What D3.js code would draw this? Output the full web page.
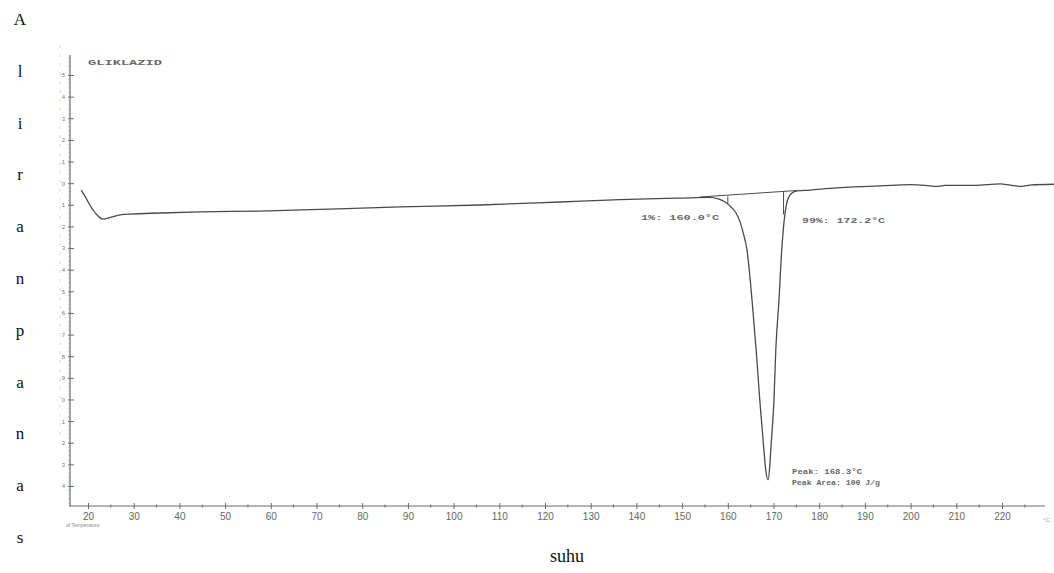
<!DOCTYPE html>
<html>
<head>
<meta charset="utf-8">
<script src="https://cdn.jsdelivr.net/npm/d3@7"></script>
<style>
html,body{margin:0;padding:0;background:#fff;}
svg{display:block;}
</style>
</head>
<body>
<svg id="chart" width="1054" height="573"></svg>
<script>
// ---- data ----
const sampleName = "GLIKLAZID";
const temperature = [18.5,19.3,20.4,22.0,23.3,24.8,26.3,29.2,35.8,44.5,57.6,73.0,88.3,105.8,123.3,136.4,149.5,156.1,157.9,159.4,160.7,161.8,162.7,163.5,164.2,165.3,166.2,167.0,167.9,168.3,168.8,169.2,169.4,170.1,170.5,171.2,171.8,172.3,172.9,173.8,175.1,178.0,182.4,186.7,193.3,199.9,203.2,205.8,207.5,214.1,219.6,221.8,224.4,226.1,231.4];
const heatFlow    = [-0.32,-0.59,-1.01,-1.47,-1.66,-1.59,-1.50,-1.43,-1.38,-1.33,-1.29,-1.20,-1.10,-1.01,-0.87,-0.76,-0.69,-0.66,-0.73,-0.87,-1.10,-1.38,-1.80,-2.40,-3.09,-5.40,-7.71,-10.03,-12.34,-13.26,-13.72,-13.03,-12.34,-10.03,-7.71,-5.40,-3.09,-1.80,-0.92,-0.50,-0.36,-0.32,-0.24,-0.18,-0.13,-0.07,-0.10,-0.15,-0.10,-0.10,-0.03,-0.09,-0.15,-0.09,-0.05];
const baselineT = [153.9, 175.1];
const baselineV = [-0.64, -0.34];
const markerT = [160.0, 172.2];
const markerTopV = [-0.61, -0.39];
const markerBottomV = [-0.95, -1.45];
const xTickValues = [20,30,40,50,60,70,80,90,100,110,120,130,140,150,160,170,180,190,200,210,220];
const xMinorTicks = [25,35,45,55,65,75,85,95,105,115,125,135,145,155,165,175,185,195,205,215,225];
const yTickValues = [5,4,3,2,1,0,-1,-2,-3,-4,-5,-6,-7,-8,-9,-10,-11,-12,-13,-14];
const yTickLabels = ["5","4","3","2","1","0","1","2","3","4","5","6","7","8","9","0","1","2","3","4"];
const annotations = ["1%: 160.0°C","99%: 172.2°C","Peak: 168.3°C","Peak Area: 100 J/g"];
const yTitleLetters = ["A","l","i","r","a","n","p","a","n","a","s"];
const xTitle = "suhu";

// ---- scales ----
const svg = d3.select("#chart");
const x = d3.scaleLinear().domain([20,220]).range([88,1002]);
const y = d3.scaleLinear().domain([5,-14]).range([75,486]);
const xAxisY = 506, yAxisX = 70;
const xLeft = 69, xRight = 1045, yTop = 55;

const ink = "#4a4a4a", axisInk = "#6a6a6a";

// faint scan edge (dotted) on the left
svg.append("line").attr("x1",60).attr("x2",60).attr("y1",45).attr("y2",440)
  .attr("stroke","#d8d8d8").attr("stroke-width",1).attr("stroke-dasharray","3,6");

// ---- x axis ----
svg.append("line").attr("x1",xLeft).attr("x2",xRight).attr("y1",xAxisY).attr("y2",xAxisY)
  .attr("stroke",axisInk).attr("stroke-width",1.2);
const xa = svg.append("g").attr("transform",`translate(0,${xAxisY})`)
  .call(d3.axisBottom(x).tickValues(xTickValues).tickSize(3).tickPadding(5).tickFormat(d3.format("d")));
xa.select(".domain").remove();
xa.selectAll(".tick line").attr("stroke",axisInk).attr("y1",-3).attr("y2",3);
xa.selectAll(".tick text").attr("fill","#666").attr("font-family","Liberation Sans, Arial, sans-serif")
  .attr("font-size",10).attr("dy","0.6em");
svg.append("g").selectAll("line").data(xMinorTicks).join("line")
  .attr("x1",d=>x(d)).attr("x2",d=>x(d)).attr("y1",xAxisY-1.5).attr("y2",xAxisY+1.5)
  .attr("stroke",axisInk).attr("stroke-width",1);
svg.append("text").attr("x",66).attr("y",527).attr("font-size",5).attr("fill","#888")
  .attr("font-family","Liberation Sans, sans-serif").text("of Temperature");
svg.append("text").attr("x",1043).attr("y",522).attr("font-size",6).attr("fill","#999")
  .attr("font-family","Liberation Sans, sans-serif").text("°C");

// ---- y axis ----
svg.append("line").attr("x1",yAxisX).attr("x2",yAxisX).attr("y1",yTop).attr("y2",xAxisY)
  .attr("stroke",axisInk).attr("stroke-width",1.2);
const ya = svg.append("g").attr("transform",`translate(${yAxisX},0)`)
  .call(d3.axisLeft(y).tickValues(yTickValues).tickSize(0).tickFormat((d,i)=>yTickLabels[i]));
ya.select(".domain").remove();
ya.selectAll(".tick line").remove();
ya.selectAll(".tick").append("line").attr("x1",-2).attr("x2",4).attr("stroke",axisInk).attr("stroke-width",1);
ya.selectAll(".tick text").attr("fill","#777").attr("font-family","Liberation Sans, sans-serif")
  .attr("font-size",6).attr("x",-5).attr("dy","0.32em");
// minor ticks along y
const yMinor = d3.range(5.8,-14.9,-0.2);
svg.append("g").selectAll("line").data(yMinor).join("line")
  .attr("x1",yAxisX-2).attr("x2",yAxisX).attr("y1",d=>y(d)).attr("y2",d=>y(d))
  .attr("stroke","#999").attr("stroke-width",0.6);

// ---- sample name ----
svg.append("text").attr("x",88).attr("y",65).attr("font-family","Liberation Mono, monospace")
  .attr("font-size",8).attr("font-weight","bold").attr("fill","#666")
  .attr("textLength",74).attr("lengthAdjust","spacingAndGlyphs").text(sampleName);

// ---- baseline & markers ----
svg.append("line").attr("x1",x(baselineT[0])).attr("y1",y(baselineV[0]))
  .attr("x2",x(baselineT[1])).attr("y2",y(baselineV[1])).attr("stroke",ink).attr("stroke-width",1);
svg.append("g").selectAll("line").data(markerT).join("line")
  .attr("x1",d=>x(d)).attr("x2",d=>x(d)).attr("y1",(d,i)=>y(markerTopV[i])).attr("y2",(d,i)=>y(markerBottomV[i]))
  .attr("stroke",ink).attr("stroke-width",1);

// ---- curve ----
const pts = temperature.map((t,i)=>[t,heatFlow[i]]);
svg.append("path").datum(pts)
  .attr("d",d3.line().x(d=>x(d[0])).y(d=>y(d[1])).curve(d3.curveMonotoneX))
  .attr("fill","none").attr("stroke",ink).attr("stroke-width",1.3);

// ---- annotations ----
const annPos = [[641,220,78],[802,223,83],[792,474,70],[792,485,88]];
svg.append("g").selectAll("text").data(annotations).join("text")
  .attr("x",(d,i)=>annPos[i][0]).attr("y",(d,i)=>annPos[i][1])
  .attr("textLength",(d,i)=>annPos[i][2]).attr("lengthAdjust","spacingAndGlyphs")
  .attr("font-family","Liberation Mono, monospace").attr("font-size",8).attr("font-weight","bold")
  .attr("fill","#666").text(d=>d);

// ---- axis titles ----
svg.append("g").selectAll("text").data(yTitleLetters).join("text")
  .attr("x",20).attr("y",(d,i)=>25+i*51.8).attr("text-anchor","middle")
  .attr("font-family","Liberation Serif, Times New Roman, serif").attr("font-size",17)
  .attr("fill","#111").text(d=>d);
svg.append("text").attr("x",567).attr("y",562).attr("text-anchor","middle")
  .attr("font-family","Liberation Serif, Times New Roman, serif").attr("font-size",18)
  .attr("fill","#111").text(xTitle);
</script>
</body>
</html>
